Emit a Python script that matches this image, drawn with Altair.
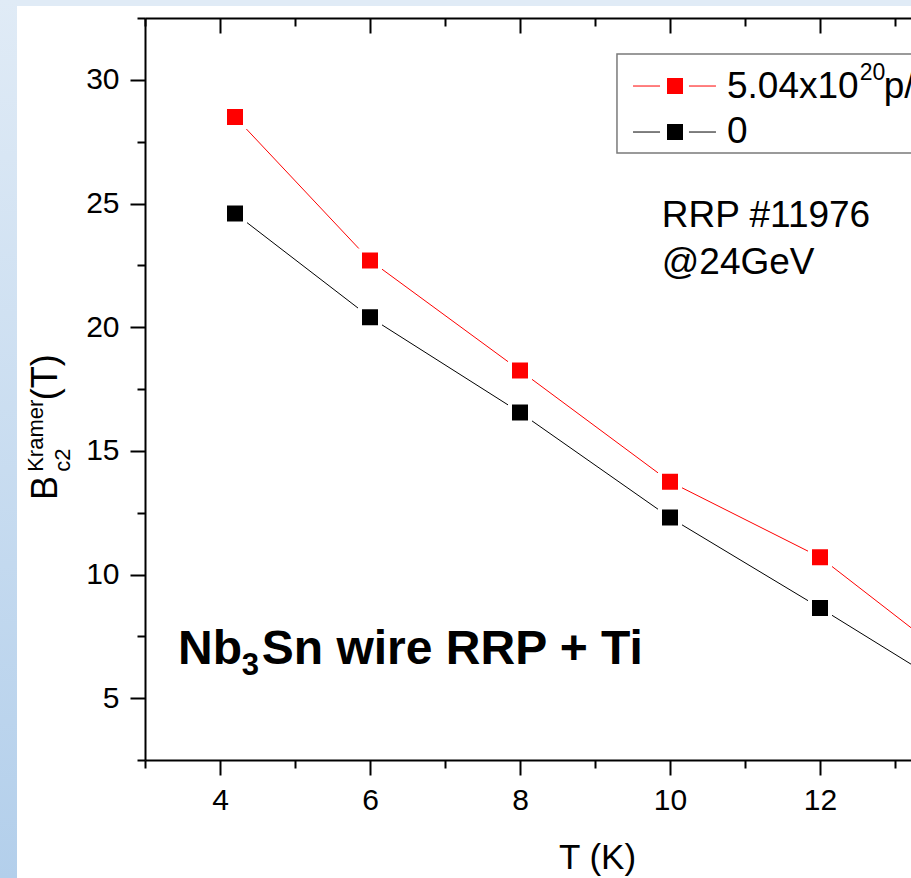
import altair as alt
import pandas as pd

# ---------------- data ----------------
temperature = [4.2, 6, 8, 10, 12, 14]
bc2_irradiated = [28.5, 22.7, 18.25, 13.75, 10.7, 6.0]
bc2_unirradiated = [24.6, 20.4, 16.55, 12.3, 8.65, 4.9]
series_keys = ["irr", "0"]
series_colors = ["#ff0000", "#000000"]
legend_main_text = ["5.04x10", "0"]

x_major = [4, 6, 8, 10, 12, 14]
x_minor = [3, 5, 7, 9, 11, 13]
y_major = [5, 10, 15, 20, 25, 30]
y_minor = [2.5, 7.5, 12.5, 17.5, 22.5, 27.5, 32.5]

# ---------------- layout ----------------
X_DOMAIN = [3, 13.2133]
Y_DOMAIN = [2.5, 32.5]
W, H = 766, 742
FONT = "Liberation Sans"

df = pd.DataFrame({
    "T": temperature * 2,
    "B": bc2_irradiated + bc2_unirradiated,
    "series": [series_keys[0]] * len(temperature) + [series_keys[1]] * len(temperature),
})
color_scale = alt.Scale(domain=series_keys, range=series_colors)


def xe(field="T", axis=None):
    return alt.X(field, type="quantitative",
                 scale=alt.Scale(domain=X_DOMAIN, nice=False, zero=False), axis=axis)


def ye(field="B", axis=None):
    return alt.Y(field, type="quantitative",
                 scale=alt.Scale(domain=Y_DOMAIN, nice=False, zero=False), axis=axis)


axis_common = dict(domainColor="black", domainWidth=2, tickColor="black", tickWidth=2,
                   grid=False, zindex=1, labelFont=FONT, labelFontSize=30, labelColor="black")
nolabel = {k: v for k, v in axis_common.items() if not k.startswith("label")}

# background decorations
one = pd.DataFrame({"a": [0]})
top_strip = alt.Chart(one).mark_rect(color="#e0ebf6").encode(
    x=alt.value(-145), x2=alt.value(W), y=alt.value(-18), y2=alt.value(-12))
left_strip = alt.Chart(one).mark_rect(
    color=alt.LinearGradient(gradient="linear", x1=0, x2=0, y1=0, y2=1,
                             stops=[alt.GradientStop(color="#e0ebf6", offset=0),
                                    alt.GradientStop(color="#b3cfeb", offset=1)])
).encode(x=alt.value(-145), x2=alt.value(-128), y=alt.value(-18), y2=alt.value(H + 118))

# minor ticks (bottom + left)
minor_layer = alt.Chart(df).mark_point(opacity=0).encode(
    x=xe(axis=alt.Axis(orient="bottom", values=x_minor, tickSize=8, labels=False, domain=False,
                       title=None, **nolabel)),
    y=ye(axis=alt.Axis(orient="left", values=y_minor, tickSize=8, labels=False, domain=False,
                       title=None, **nolabel)),
)
# top axis (inward ticks): a bottom-oriented axis moved to the top edge
top_major = alt.Chart(df).mark_point(opacity=0).encode(
    x=xe(axis=alt.Axis(orient="bottom", offset=-H, values=x_major, tickSize=15, labels=False,
                       domain=True, title=None, **nolabel)),
    y=ye(axis=None),
)
top_minor = alt.Chart(df).mark_point(opacity=0).encode(
    x=xe(axis=alt.Axis(orient="bottom", offset=-H, values=x_minor, tickSize=8, labels=False,
                       domain=False, title=None, **nolabel)),
    y=ye(axis=None),
)

lines = alt.Chart(df).mark_line(strokeWidth=1, clip=True).encode(
    x=xe(axis=alt.Axis(orient="bottom", values=x_major, tickSize=15, labelPadding=10,
                       title="T (K)", titleFont=FONT, titleFontSize=35, titleFontWeight="normal",
                       titleColor="black", titleX=452, titleY=108, titleAlign="center",
                       titleBaseline="alphabetic", **axis_common)),
    y=ye(axis=alt.Axis(orient="left", values=y_major, tickSize=15, labelPadding=11, title=None,
                       **axis_common)),
    color=alt.Color("series:N", scale=color_scale, legend=None),
    detail="series:N",
)
points = alt.Chart(df).mark_square(size=400, stroke="white", strokeWidth=4, opacity=1,
                                   clip=True).encode(
    x=xe(), y=ye(),
    fill=alt.Fill("series:N", scale=color_scale, legend=None),
)

# ---------------- legend (drawn) ----------------
leg = pd.DataFrame({
    "key": series_keys,
    "text": legend_main_text,
    "yc": [29.75, 27.89],
    "yb": [29.27, 27.45],
    "xl1": [9.507] * 2, "xl2": [9.867] * 2,
    "xr1": [10.253] * 2, "xr2": [10.613] * 2,
    "xs": [10.067] * 2, "xt": [10.76] * 2,
})
leg_box = alt.Chart(one).mark_rect(fill="white", stroke="#7a7a7a", strokeWidth=1.5).encode(
    x=alt.datum(9.293, type="quantitative", scale=alt.Scale(domain=X_DOMAIN, nice=False, zero=False), axis=None),
    x2=alt.datum(14.5),
    y=alt.datum(31.04, type="quantitative", scale=alt.Scale(domain=Y_DOMAIN, nice=False, zero=False), axis=None),
    y2=alt.datum(27.04),
)
leg_l = alt.Chart(leg).mark_rule(strokeWidth=1).encode(
    x=xe("xl1"), x2="xl2", y=ye("yc"), color=alt.Color("key:N", scale=color_scale, legend=None))
leg_r = alt.Chart(leg).mark_rule(strokeWidth=1).encode(
    x=xe("xr1"), x2="xr2", y=ye("yc"), color=alt.Color("key:N", scale=color_scale, legend=None))
leg_sq = alt.Chart(leg).mark_square(size=256, opacity=1).encode(
    x=xe("xs"), y=ye("yc"), fill=alt.Fill("key:N", scale=color_scale, legend=None))
leg_txt = alt.Chart(leg).mark_text(font=FONT, fontSize=37, align="left", baseline="alphabetic",
                                   color="black").encode(x=xe("xt"), y=ye("yb"), text="text:N")

# ---------------- annotations ----------------
ann = pd.DataFrame([
    # text, x, y, size, weight, angle
    {"t": "20", "x": 12.53, "y": 29.99, "s": 23, "w": "normal", "a": 0},
    {"t": "p/cm²", "x": 12.85, "y": 29.27, "s": 37, "w": "normal", "a": 0},
    {"t": "RRP #11976", "x": 9.89, "y": 24.05, "s": 37, "w": "normal", "a": 0},
    {"t": "@24GeV", "x": 9.89, "y": 22.15, "s": 37, "w": "normal", "a": 0},
    {"t": "Nb", "x": 3.44, "y": 6.38, "s": 48, "w": "bold", "a": 0},
    {"t": "3", "x": 4.29, "y": 5.94, "s": 31, "w": "bold", "a": 0},
    {"t": "Sn wire RRP + Ti", "x": 4.557, "y": 6.38, "s": 48, "w": "bold", "a": 0},
    {"t": "B", "x": 1.827, "y": 13.01, "s": 36, "w": "normal", "a": 270},
    {"t": "c2", "x": 2.0, "y": 14.15, "s": 22, "w": "normal", "a": 270},
    {"t": "Kramer", "x": 1.64, "y": 14.15, "s": 22, "w": "normal", "a": 270},
    {"t": "(T)", "x": 1.827, "y": 17.05, "s": 36, "w": "normal", "a": 270},
])
ann_layers = []
for (s, w, a), g in ann.groupby(["s", "w", "a"]):
    ann_layers.append(
        alt.Chart(g).mark_text(font=FONT, fontSize=int(s), fontWeight=w, angle=int(a),
                               align="left", baseline="alphabetic", color="black").encode(
            x=xe("x"), y=ye("y"), text="t:N"))

chart = alt.layer(
    top_strip, left_strip, minor_layer, top_major, top_minor, lines, points,
    leg_box, leg_l, leg_r, leg_sq, leg_txt, *ann_layers
).resolve_axis(x="independent", y="independent").properties(
    width=W, height=H,
    autosize=alt.AutoSizeParams(type="none"),
    padding={"left": 145, "top": 18, "right": 0, "bottom": 118},
    background="white",
).configure_view(strokeWidth=0)

chart.save("out.html", embed_options={"renderer": "svg", "actions": False})
